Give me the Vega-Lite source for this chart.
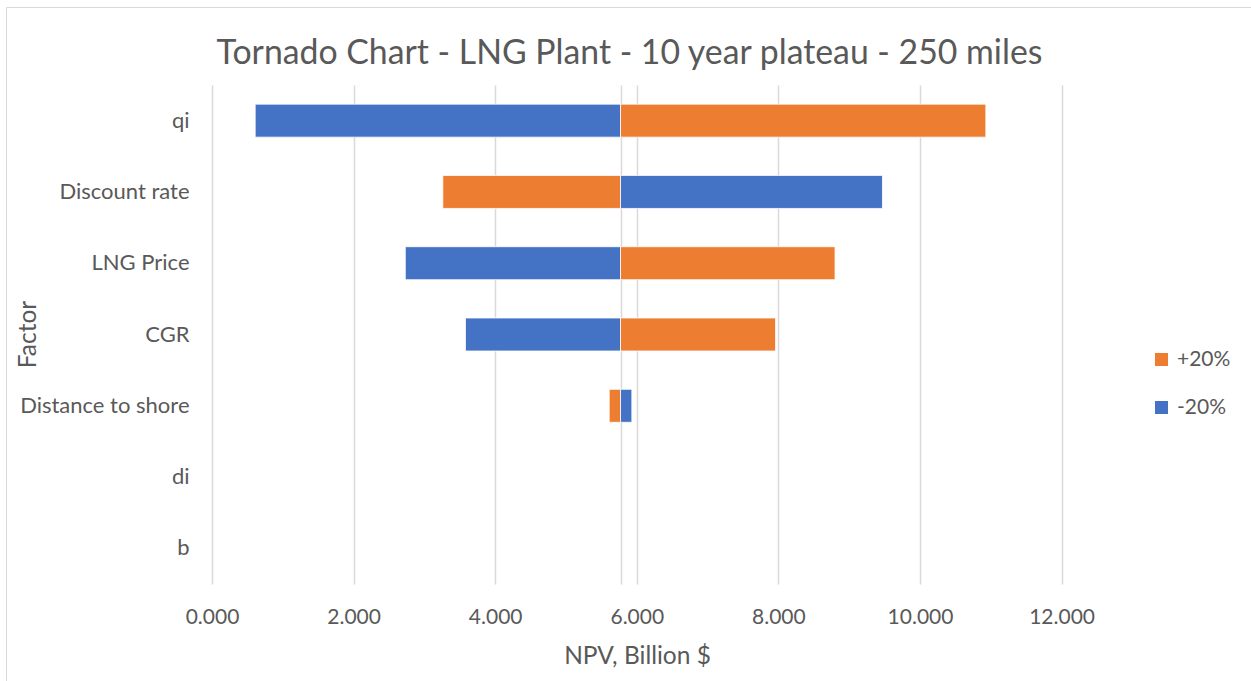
{
  "$schema": "https://vega.github.io/schema/vega-lite/v6.json",
  "autosize": {"type": "none"},
  "padding": {"left": 6, "top": 7, "right": 0, "bottom": 0},
  "width": 1245,
  "height": 674,
  "background": "white",
  "config": {
    "font": "Lato",
    "view": {"stroke": "#d9d9d9", "strokeWidth": 1},
    "axis": {
      "labelColor": "#595959",
      "titleColor": "#595959",
      "labelFont": "Lato",
      "titleFont": "Lato",
      "titleFontWeight": "normal"
    }
  },
  "title": {
    "text": "Tornado Chart - LNG Plant - 10 year plateau - 250 miles",
    "fontSize": 33.8,
    "font": "Lato",
    "fontWeight": "normal",
    "color": "#595959",
    "anchor": "middle",
    "baseline": "alphabetic",
    "offset": -91,
    "dx": 1
  },
  "data": {
    "values": [
      {"factor": "qi", "case": "-20%", "npv": 0.61, "base": 5.77},
      {"factor": "qi", "case": "+20%", "npv": 10.93, "base": 5.77},
      {"factor": "Discount rate", "case": "+20%", "npv": 3.26, "base": 5.77},
      {"factor": "Discount rate", "case": "-20%", "npv": 9.47, "base": 5.77},
      {"factor": "LNG Price", "case": "-20%", "npv": 2.73, "base": 5.77},
      {"factor": "LNG Price", "case": "+20%", "npv": 8.8, "base": 5.77},
      {"factor": "CGR", "case": "-20%", "npv": 3.58, "base": 5.77},
      {"factor": "CGR", "case": "+20%", "npv": 7.96, "base": 5.77},
      {"factor": "Distance to shore", "case": "+20%", "npv": 5.61, "base": 5.77},
      {"factor": "Distance to shore", "case": "-20%", "npv": 5.93, "base": 5.77}
    ]
  },
  "layer": [
    {
      "mark": {"type": "bar", "opacity": 0},
      "encoding": {
        "x": {
          "field": "npv",
          "type": "quantitative",
          "scale": {"domain": [0, 12], "range": [206, 1055.6], "nice": false, "zero": false},
          "axis": {
            "orient": "top",
            "grid": true,
            "values": [0, 2, 4, 5.77, 6, 8, 10, 12],
            "labels": false,
            "ticks": false,
            "domain": false,
            "title": null,
            "gridColor": "#d9d9d9",
            "gridWidth": 1.5
          }
        },
        "x2": {"field": "base"},
        "y": {
          "field": "factor",
          "type": "nominal",
          "sort": ["qi", "Discount rate", "LNG Price", "CGR", "Distance to shore", "di", "b"],
          "scale": {
            "domain": ["qi", "Discount rate", "LNG Price", "CGR", "Distance to shore", "di", "b"],
            "range": [78, 577],
            "paddingInner": 0.537,
            "paddingOuter": 0.2685
          }
        }
      }
    },
    {
      "mark": {"type": "bar", "stroke": "white", "strokeWidth": 0.8},
      "encoding": {
        "x": {
          "field": "npv",
          "type": "quantitative",
          "scale": {"domain": [0, 12], "range": [206, 1055.6], "nice": false, "zero": false},
          "axis": {
            "orient": "bottom",
            "offset": -97,
            "grid": false,
            "values": [0, 2, 4, 6, 8, 10, 12],
            "format": ".3f",
            "ticks": false,
            "domain": false,
            "labelFlush": false,
            "labelOverlap": false,
            "labelFontSize": 21,
            "labelPadding": 22,
            "title": "NPV, Billion $",
            "titleFontSize": 24.5,
            "titleX": 631,
            "titleY": 79,
            "titleAnchor": null,
            "titleAlign": "center",
            "titleBaseline": "alphabetic"
          }
        },
        "x2": {"field": "base"},
        "y": {
          "field": "factor",
          "type": "nominal",
          "sort": ["qi", "Discount rate", "LNG Price", "CGR", "Distance to shore", "di", "b"],
          "scale": {
            "domain": ["qi", "Discount rate", "LNG Price", "CGR", "Distance to shore", "di", "b"],
            "range": [78, 577],
            "paddingInner": 0.537,
            "paddingOuter": 0.2685
          },
          "axis": {
            "orient": "left",
            "offset": -206,
            "grid": false,
            "ticks": false,
            "domain": false,
            "labelFontSize": 22,
            "labelPadding": 23,
            "labelLimit": 300,
            "title": "Factor",
            "titleFontSize": 24.5,
            "titleAngle": -90,
            "titleX": -184,
            "titleY": 327,
            "titleAlign": "center",
            "titleBaseline": "middle"
          }
        },
        "color": {
          "field": "case",
          "type": "nominal",
          "scale": {"domain": ["+20%", "-20%"], "range": ["#ED7D31", "#4472C4"]},
          "legend": {
            "orient": "none",
            "legendX": 1145,
            "legendY": 342,
            "title": null,
            "symbolType": "square",
            "symbolSize": 169,
            "symbolStrokeWidth": 0,
            "labelFontSize": 21,
            "labelColor": "#595959",
            "labelFont": "Lato",
            "labelOffset": 5,
            "rowPadding": 26,
            "padding": 0
          }
        }
      }
    }
  ],
  "resolve": {"axis": {"x": "independent"}}
}
